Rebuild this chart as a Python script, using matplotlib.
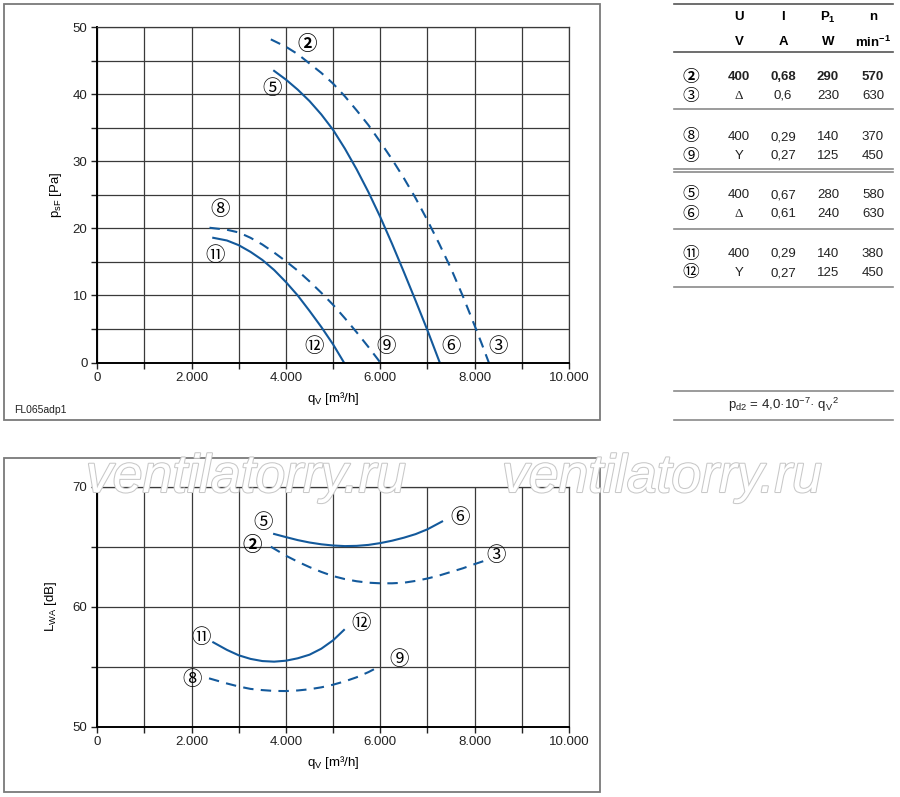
import matplotlib
matplotlib.use('Agg')
import matplotlib.pyplot as plt
import matplotlib.patheffects as pe
from matplotlib.patches import Rectangle
from matplotlib.lines import Line2D

plt.rcParams['font.family'] = ['Liberation Sans', 'DejaVu Sans']
plt.rcParams['mathtext.fontset'] = 'custom'
plt.rcParams['mathtext.rm'] = 'Liberation Sans'
plt.rcParams['mathtext.bf'] = 'Liberation Sans:bold'
plt.rcParams['mathtext.it'] = 'Liberation Sans:italic'

BLUE = '#13599b'
GRID = '#3a3a3a'
CIRC = ['Noto Sans CJK JP', 'DejaVu Sans']
W, H = 900, 797

# --- pressure curves p_sF [Pa] vs q_V [m3/h]
q_p2 = [3680, 4000, 4250, 4500, 4750, 5000, 5250, 5500, 5750, 6000, 6250,
        6500, 6750, 7000, 7250, 7500, 7750, 8000, 8150, 8300]
p_p2 = [48.2, 47.1, 46.0, 44.6, 43.2, 41.6, 39.7, 37.6, 35.4, 32.9, 30.3,
        27.5, 24.5, 21.2, 17.7, 14.0, 9.9, 5.5, 2.8, 0.0]
q_p5 = [3750, 4000, 4250, 4500, 4750, 5000, 5250, 5500, 5750, 6000, 6250,
        6500, 6750, 7000, 7260]
p_p5 = [43.5, 42.2, 40.7, 39.0, 37.0, 34.7, 31.9, 28.8, 25.4, 21.7, 17.7,
        13.5, 9.2, 4.8, 0.0]
q_p8 = [2380, 2750, 3000, 3250, 3500, 3750, 4000, 4250, 4500, 4750, 5000,
        5250, 5500, 5750, 6000]
p_p8 = [20.1, 19.8, 19.4, 18.6, 17.6, 16.4, 15.1, 13.7, 12.1, 10.4, 8.6,
        6.6, 4.5, 2.3, 0.0]
q_p11 = [2460, 2750, 3000, 3250, 3500, 3750, 4000, 4250, 4500, 4750, 5000, 5230]
p_p11 = [18.6, 18.2, 17.5, 16.5, 15.3, 13.8, 12.0, 10.0, 7.7, 5.3, 2.7, 0.0]

# --- sound power curves L_WA [dB] vs q_V
q_l2 = [3680, 4000, 4250, 4500, 4750, 5000, 5250, 5500, 5750, 6000, 6250,
        6500, 6750, 7000, 7250, 7500, 7750, 8000, 8190]
l_l2 = [65.0, 64.25, 63.75, 63.3, 62.9, 62.55, 62.3, 62.12, 62.0, 61.95, 61.95,
        62.0, 62.15, 62.35, 62.6, 62.9, 63.2, 63.55, 63.8]
q_l5 = [3750, 4000, 4250, 4500, 4750, 5000, 5250, 5500, 5750, 6000, 6250,
        6500, 6750, 7000, 7310]
l_l5 = [66.06, 65.8, 65.55, 65.35, 65.2, 65.1, 65.05, 65.07, 65.15, 65.3, 65.5,
        65.75, 66.05, 66.45, 67.1]
q_l8 = [2370, 2750, 3000, 3250, 3500, 3750, 4000, 4250, 4500, 4750, 5000,
        5250, 5500, 5750, 6000]
l_l8 = [54.03, 53.6, 53.35, 53.15, 53.05, 52.98, 52.97, 53.02, 53.12, 53.28, 53.5,
        53.78, 54.12, 54.55, 55.06]
q_l11 = [2460, 2750, 3000, 3250, 3500, 3750, 4000, 4250, 4500, 4750, 5000, 5230]
l_l11 = [57.03, 56.4, 55.95, 55.65, 55.47, 55.42, 55.5, 55.7, 56.0, 56.5, 57.2, 58.06]

x_ticks = [0, 2000, 4000, 6000, 8000, 10000]
x_labels = ['0', '2.000', '4.000', '6.000', '8.000', '10.000']

# curve labels: (text, q, value, bold)
p_tags = [('②', 4450, 47.5, True), ('⑤', 3710, 40.8, False),
          ('⑧', 2615, 22.8, False), ('⑪', 2510, 16.0, False),
          ('⑫', 4590, 2.4, False), ('⑨', 6130, 2.4, False),
          ('⑥', 7500, 2.4, False), ('③', 8500, 2.4, False)]
l_tags = [('⑤', 3520, 67.0, False), ('②', 3285, 65.1, True),
          ('⑥', 7700, 67.4, False), ('③', 8445, 64.3, False),
          ('⑪', 2205, 57.45, False), ('⑫', 5600, 58.56, False),
          ('⑨', 6400, 55.6, False), ('⑧', 2020, 53.95, False)]

# table
t_ids = ['②', '③', '⑧', '⑨', '⑤', '⑥', '⑪', '⑫']
t_U = ['400', 'Δ', '400', 'Y', '400', 'Δ', '400', 'Y']
t_I = ['0,68', '0,6', '0,29', '0,27', '0,67', '0,61', '0,29', '0,27']
t_P = ['290', '230', '140', '125', '280', '240', '140', '125']
t_n = ['570', '630', '370', '450', '580', '630', '380', '450']


def fx(x):
    return x / W


def fy(y):
    return 1 - y / H


fig = plt.figure(figsize=(9, 7.97), dpi=100)


def setup(ax, ylim, ymaj, ymin):
    ax.set_xlim(0, 10000)
    ax.set_ylim(*ylim)
    ax.set_xticks(x_ticks)
    ax.set_xticklabels(x_labels)
    ax.set_xticks(range(0, 10001, 1000), minor=True)
    ax.set_yticks(ymaj)
    ax.set_yticks(ymin, minor=True)
    ax.grid(which='both', color=GRID, lw=0.9)
    ax.set_axisbelow(True)
    for s in ['top', 'right']:
        ax.spines[s].set_color(GRID)
        ax.spines[s].set_linewidth(0.9)
    for s in ['left', 'bottom']:
        ax.spines[s].set_color('black')
        ax.spines[s].set_linewidth(1.4)
    ax.tick_params(which='both', direction='out', length=4, width=1,
                   labelsize=9.5, colors='#222222', pad=3)


# top chart
ax1 = fig.add_axes([fx(97.2), fy(362.5), fx(569 - 97.2), (362.5 - 27.3) / H])
setup(ax1, (0, 50), range(0, 51, 10), range(0, 51, 5))
ax1.plot(q_p2, p_p2, color=BLUE, lw=1.5, ls=(0, (5, 3.5)))
ax1.plot(q_p5, p_p5, color=BLUE, lw=1.5)
ax1.plot(q_p8, p_p8, color=BLUE, lw=1.5, ls=(0, (5, 3.5)))
ax1.plot(q_p11, p_p11, color=BLUE, lw=1.5)
for t, q, v, b in p_tags:
    ax1.text(q, v, t, ha='center', va='center', fontsize=14,
             family=CIRC, fontweight='bold' if b else 'normal')
ax1.set_ylabel('p$_{\\mathrm{sF}}$ [Pa]', fontsize=9.5, labelpad=6)
ax1.set_xlabel('q$_{\\mathrm{V}}$ [m³/h]', fontsize=9.5, labelpad=4)

# bottom chart
ax2 = fig.add_axes([fx(97.2), fy(726.7), fx(569 - 97.2), 240 / H])
setup(ax2, (50, 70), [50, 60, 70], [50, 55, 60, 65, 70])
ax2.plot(q_l2, l_l2, color=BLUE, lw=1.5, ls=(0, (5, 3.5)))
ax2.plot(q_l5, l_l5, color=BLUE, lw=1.5)
ax2.plot(q_l8, l_l8, color=BLUE, lw=1.5, ls=(0, (5, 3.5)))
ax2.plot(q_l11, l_l11, color=BLUE, lw=1.5)
for t, q, v, b in l_tags:
    ax2.text(q, v, t, ha='center', va='center', fontsize=14,
             family=CIRC, fontweight='bold' if b else 'normal')
ax2.set_ylabel('L$_{\\mathrm{WA}}$ [dB]', fontsize=9.5, labelpad=10)
ax2.set_xlabel('q$_{\\mathrm{V}}$ [m³/h]', fontsize=9.5, labelpad=4)

# frames around the charts
for y0, y1 in [(4, 420), (458, 792)]:
    fig.add_artist(Rectangle((fx(4), fy(y1)), fx(596), (y1 - y0) / H,
                             transform=fig.transFigure, fill=False,
                             ec='#7a7a7a', lw=1.3))
fig.text(fx(14), fy(410), 'FL065adp1', fontsize=7.5, va='center', color='#222222')

# table on the right
def hline(y, c='#8a8a8a', lw=1.2):
    fig.add_artist(Line2D([fx(674), fx(893)], [fy(y), fy(y)],
                          transform=fig.transFigure, color=c, lw=lw))


for y, c in [(4, '#555555'), (52, '#555555'), (109, '#8a8a8a'), (169, '#8a8a8a'),
             (171.5, '#8a8a8a'), (229, '#8a8a8a'), (287, '#8a8a8a'),
             (391, '#8a8a8a'), (420, '#8a8a8a')]:
    hline(y, c)

cols = [739, 783, 828, 873]
for x, t in zip(cols, ['U', 'I', '$\\mathbf{P_1}$', 'n']):
    fig.text(fx(x), fy(17), t, ha='center', va='center', fontsize=9.5, fontweight='bold')
for x, t in zip(cols, ['V', 'A', 'W', 'min$^{\\mathbf{-1}}$']):
    fig.text(fx(x), fy(42), t, ha='center', va='center', fontsize=9.5, fontweight='bold')

row_y = [77, 96, 137, 156, 195, 214, 254, 273]
for i, y in enumerate(row_y):
    w = 'bold' if i == 0 else 'normal'
    fig.text(fx(691), fy(y), t_ids[i], ha='center', va='center', fontsize=12,
             family=CIRC, fontweight=w)
    u = t_U[i]
    fam = 'Liberation Serif' if u == 'Δ' else 'Liberation Sans'
    fig.text(fx(cols[0]), fy(y), u, ha='center', va='center', fontsize=9.5,
             family=fam, fontweight=w, color='#222222')
    for x, t in zip(cols[1:], [t_I[i], t_P[i], t_n[i]]):
        fig.text(fx(x), fy(y), t, ha='center', va='center', fontsize=9.5,
                 fontweight=w, color='#222222')

fig.text(fx(783), fy(405), 'p$_{\\mathrm{d2}}$ = 4,0·10$^{-7}$· q$_{\\mathrm{V}}$$^{2}$',
         ha='center', va='center', fontsize=9.5, color='#222222')

# watermark
for x in [86, 502]:
    fig.text(fx(x), fy(478), 'ventilatorry.ru', fontsize=38.5, style='italic',
             color='white', ha='left', va='center', zorder=10,
             path_effects=[pe.withStroke(linewidth=1.5, foreground='#c8c8c8')])

fig.savefig('out.png', dpi=100)
